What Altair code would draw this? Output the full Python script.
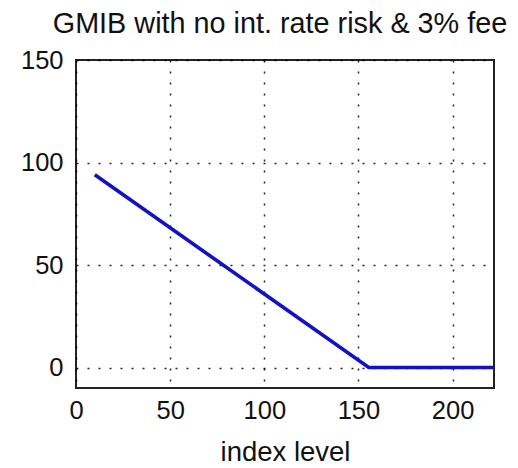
import altair as alt
import pandas as pd

# data
index_level = [10, 155.5, 222]
payoff = [94, 0, 0]

x_ticks = [0, 50, 100, 150, 200]
y_ticks = [0, 50, 100, 150]

df = pd.DataFrame({"x": index_level, "y": payoff})

FONT = "Liberation Sans"

chart = (
    alt.Chart(df)
    .mark_line(color="#1212c4", strokeWidth=3.6)
    .encode(
        x=alt.X(
            "x:Q",
            scale=alt.Scale(domain=[0, 222], nice=False, zero=False),
            axis=alt.Axis(
                values=x_ticks,
                title="index level",
                titleFontSize=27.5,
                titleFontWeight="normal",
                titleFont=FONT,
                titleColor="#111",
                titlePadding=15,
                labelFontSize=25.5,
                labelFont=FONT,
                labelColor="#111",
                labelPadding=10,
                tickSize=0,
                domain=False,
                grid=True,
                gridColor="#000",
                gridDash=[2, 9],
                gridWidth=1.5,
                gridOpacity=0.85,
                labelFlush=False,
                labelOverlap=False,
            ),
        ),
        y=alt.Y(
            "y:Q",
            scale=alt.Scale(domain=[-10, 150], nice=False, zero=False),
            axis=alt.Axis(
                values=y_ticks,
                title=None,
                labelFontSize=25.5,
                labelFont=FONT,
                labelColor="#111",
                labelPadding=13,
                tickSize=0,
                domain=False,
                grid=True,
                gridColor="#000",
                gridDash=[2, 9],
                gridWidth=1.5,
                gridOpacity=0.85,
                labelFlush=False,
                labelOverlap=False,
            ),
        ),
    )
    .properties(
        width=418,
        height=328,
        title=alt.TitleParams(
            text="GMIB with no int. rate risk & 3% fee",
            fontSize=28.8,
            font=FONT,
            fontWeight="normal",
            color="#111",
            anchor="middle",
            baseline="bottom",
            offset=0,
            dx=-5,
            dy=20,
        ),
        autosize=alt.AutoSizeParams(type="none"),
        padding={"left": 68, "top": 52, "right": 16, "bottom": 80},
        background="white",
    )
    .configure_view(stroke="#222", strokeWidth=2)
)

chart.save("out.html", embed_options={"renderer": "svg", "actions": False})
